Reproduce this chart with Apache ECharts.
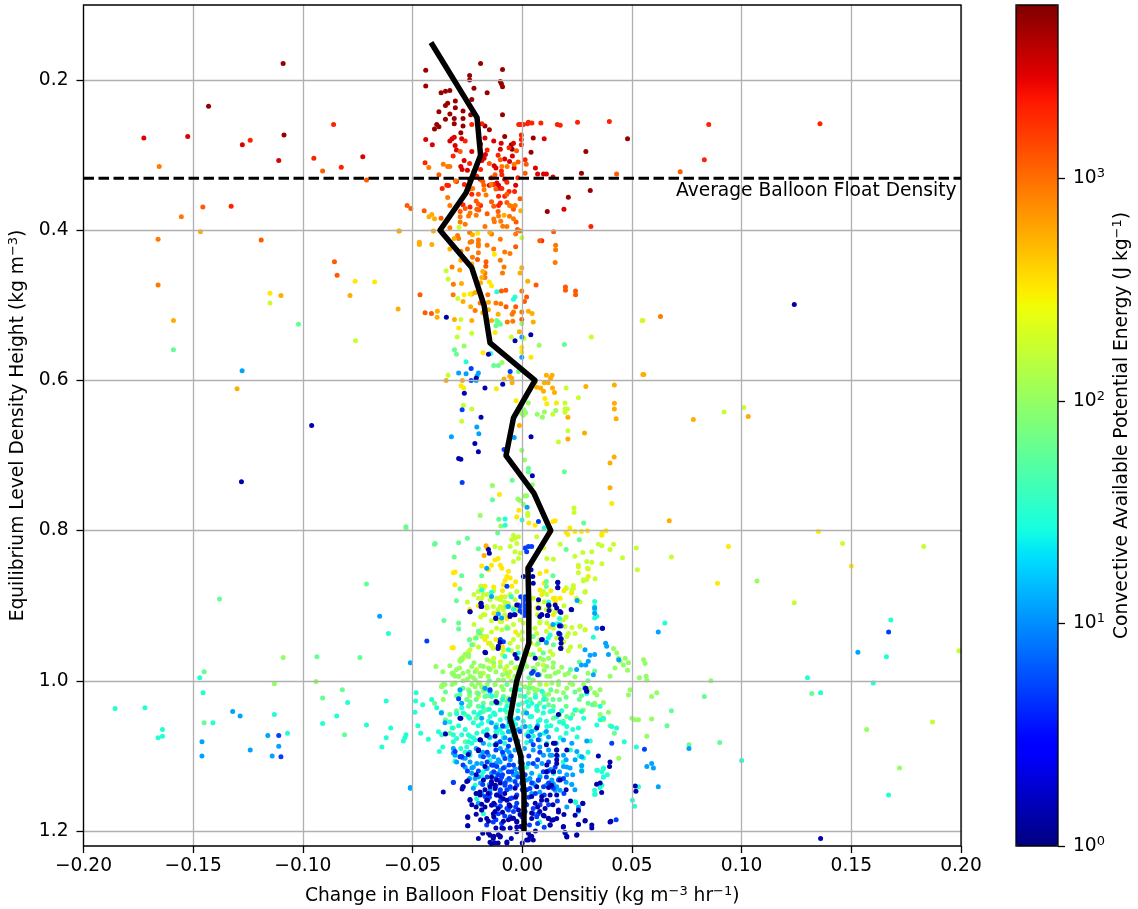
<!DOCTYPE html>
<html><head><meta charset="utf-8"><style>html,body{margin:0;background:#fff}#c{width:1138px;height:909px}</style>
<script src="https://cdn.jsdelivr.net/npm/echarts@6/dist/echarts.min.js"></script></head>
<body><div id="c"></div>
<script>
// Scatter values, flat x,y pairs, both in thousandths of kg m-3 (hr-1), one list per CAPE level.
const cape5000=[-109,178,-143,235,-44,187,-19,178,-9,186,-24,194,-24,200,-44,208,-10,202,-9.5,205,-9,209,-22,211,-16,217,-37,217,-35,215,-33,214,-23,226,-30.5,228,-34,231,-35,234,-30.5,237,-38,242,-27,241,-33,245,-23.5,246,-9,246,-35,252,-31,251,-27,251,-31,258,-27,261,-39,259,-38,262,-40,265,-17,261,-15,266,-28,270,-8,275,5,277,-5,286,-4.6,292,4,296,29,295,27,324,48,278,-108.6,273,21,356,31,347,11.4,375];
const cape3000=[-172.5,277,-152.5,275,-127.6,286,-111,307,-72.7,302,10,278,-17,277,-13,281,-9.6,284,-4,284,-10,292,-4.5,301,-44,279,-41,286,-31,276,-32,278,-33,281,-30.6,287,-27.6,278,-30,293,-26.5,307,-28,315,-27.4,319,-16.8,299,-17.4,304,-18.4,307,-12.8,314,-12,317,-8,305,-5.8,308.5,-3.7,317,6,317,7,325,9.7,325,11,325,14,329,-22,322,-11.6,337,-10.8,340,-10.4,344,19,372,-23,295,-19,285,-25,320,-15,340,-8,332,-3,340];
const cape2000=[-124,280,-86,259,-95,304,-82.5,316,-132.7,368,135.7,258,85,259,83,306,25.2,256,39.7,255,-23,259,-18.4,258,-1.6,259,-0.7,259,0.5,259,2.8,256,2.4,258,4.4,257,8.5,257,16,259,17.3,260,-0.4,273,-0.4,279,-0.4,286,-26,281,-31.5,301,-24,311,-44.3,310,1.3,306,-9.5,321,-9.3,326,-19,319,-20.7,328,-19.2,332,-34.4,340,-36.5,344.5,-33.6,340.5,-26.4,339,-13,339,-9.3,344.5,-6,348.5,-3.5,348.5,-8,354.7,-10.8,354.7,-23,352,-27,366,-19,367,-23.8,369,-10.8,367,-10,363.6,8.9,414,31.3,395,-30,335,-14,330,-7,336,-2,330,-24,332,-11,300,-6,290,-16,293];
const cape1200=[-91,321,-71,333,-145.6,369,-119,413,-52.5,367,-85.6,442,-84.4,460,72,322,43,325,14.3,402,-2.6,294,-28.3,295,-38,326,-15,311,-10,306,-1.9,309,1.8,312,1.3,324,-12.4,326,-17.5,340,-20,352,-21,361,-20,365,-26,371,-28.3,375,-13,368,-7,363,-20.7,372,-19.8,373,-2.8,389,-2.2,399,-3,422,8,414,-50.8,371,-44.7,374,-37,384,6.3,473,19.7,475.5,19.7,480,24.3,481,24.3,486,-20.4,439,-16.5,442,-16.6,448,-9.5,481,-7.5,480,-7.4,502,-3,502,-0.2,519,2,489,1,495,-46.6,486,-44.3,510,-41.4,511,-24,345,-18,335,-12,345,-7,352,-16,378,-14,362,-4,372,-1,358,-11,375];
const cape900=[-165.5,315,-155.4,382,-166,412,-166,473,-42.6,316.5,-36,312,-34,315,-33,315,-9.3,315,-6.9,315,-3.7,312,-30.5,334,-14.2,339,-22.6,344.5,-17.4,346,-16.5,353,-34,356.5,-33,367,-5.8,367,-5,368,-3.2,367,-23.8,377,-24.5,381,-10.8,381,-5.8,381.4,-4,384.5,-13,385,-12.7,388.5,-9.8,388,-8.9,394.7,-1,401,-28.3,382,-28.3,389,-33,396.5,-29.5,407,-29,411,-23,415,-23.8,416,-20,413,-20,418,-20,421,-10,412,15.2,420,15.2,426,-5.6,431,-8,429,-22.7,436,-32,449,-17,457,-9,457,-8.3,449,-17,463,-31.4,472,15,443,-31.5,486,-15.7,486,-19.2,497,-9.8,498,-12,497,-0.2,481,-4,509,-4.6,512,-0.2,509,-21.5,507,-6.8,522,-4.3,521,63,515,-26,392,-21,380,-17,395,-14,405,-7,395,-3,405,-24,403,-20,430,-13,425,-25,425,-16,420,-10,440,-28,428];
const cape550=[-146.7,402,-56.3,401,-78.5,487,-56.6,505,-159,520,-110,487,-130,611,-41.2,379,-42.5,382,-40,384.5,-56,401,-40.5,401,-46.9,416,-46.9,419,-41.2,419,-8.3,380,-14.8,403,-22.7,406,-31,411,-0.7,374,-28.5,453,-0.2,450,-1,457,2.5,468,-27.7,471,-18.4,463,-21.4,483,-23,485,-15.4,496,2.8,508,4.5,511,-38.7,508,-38.8,516,-30.9,519,-23.5,502,-15.4,506,-11,512,5,522,-1.3,535,-27.3,600,-34.7,600,-8.3,598,-5.7,594.5,-4.8,597,-4.6,603,11,593,13.6,593,12.9,597,10,603,11.8,603,5.9,602,6.6,609,8.4,610,9.7,614.5,13.8,610,14.7,616,29,608,42,606,55.4,592,42,630.5,42,638,20.8,649,42.8,651,28.4,670,20.8,678,40,710,41.9,702,40,743,67,787,78,652,103,648,55,592,-16.5,820,-16,823,-17.4,833,-1.3,660,-36,405,-33,425,-28,440,-23,445,-19,470,-18,455,-27,495,-23,520,-18,510,-14,520];
const cape350=[-76.2,468,-67.3,469,-115,484,-12.7,432,-14,474,-15,469,-20.3,404,-26.5,486,-23.8,485,-29,530,-12.4,536,-0.2,556,-0.2,562,4,569,-17.9,563,-27.9,607,-26.7,610,-11.8,611,-2.8,627,10.3,624,11.2,631,15.6,630,-10.4,752,-1.5,773,-2.5,782,3,790,5.9,793,14,788,15,787,21.7,796.5,40.8,764,55,520,135,801,150,847,89,870,94,821,24,801,27,801,29.7,800,20.8,805,36.3,803,36.3,806,38.2,800,12,799,-12.4,839,-11,837,-14,846,-10,846,-9.3,850,-15.4,852,-18.5,847,-30.6,855,-31.4,856,-6.3,854,-7,861,-7.8,866,-5.5,863,8.1,879,8.9,885,6.6,903,15,890,15,894,17.3,890,14.2,912,12.7,928,-10,921,-7,917,-17.7,941,-17,945,-15.4,950,-14,953,-31.4,956,-32,956,20,802,8,857,14.2,890,15,894,-30.7,872,-18.5,874,-17,874,-8.6,872,-4.8,874,-10.9,890,-9.4,888,-8,901,20,877,23.3,877,22.5,883,30.1,851,30.1,861,25.6,848,11,854,-13,875,-9,880,-3,868,-24,905,-20,900,-13,910,-3,935,3,885,10,870,13,880,-12,945,-9,955,19,880];
const cape200=[-115,497,-76,547,146,817,183,821,124,896,199,960,187,1055,92,642,101,636,68,835,-28.8,396,-0.2,410,-33.8,465,-34.7,454,-29.4,491,-28,519,-23,537,-29.7,542,0.8,544,-5,542,31.5,542,54.6,520,-33.8,593,19.5,630,19.5,638,20.6,638,19.5,642.5,13.9,645,25.6,623,20,610,-23,638,-26.8,633,-27.6,654.5,20.8,667,16.5,682,23.6,770,23.6,776,2.5,777,2.5,780,-4,806,-3.3,810,-4.8,812,-1.7,808,-2.5,817,-5.5,821,-3.3,828,-1,830,-1.7,837,-4,841,-10,823,-12.4,821,6.6,808,9.7,823,17.3,818,11.2,837,14.2,838,24,834,27.6,829,31.7,828,34.7,818,36.3,820,40,825,41.6,818,45.7,836,52,823,52.5,852,36.3,844,29.4,841,31.7,842,29.7,850,25.6,846,25.6,856,20,876,23.3,873,22.6,879,24.9,891,28.7,881,27.9,867,33.2,864,29.4,865,26.4,927,28.7,932,24.1,937,22.6,929,21,937,20.3,941,18.8,948,-19,874,-17.7,877,-20,881,-16,885,-18.5,890,-14.7,892,-11.6,890,-10,892,-7.8,888,-5.5,885,-2.5,881,-3.3,892,-6.3,897,-10,901,-8.6,905,-4,903,-16,903,-17.7,912,-7,928,-9.3,932,-1,919,0.5,923,9.7,881,11.2,885,5,890,12.7,905,8.1,921,11.2,923,14.2,930,6.6,937,4.3,941,-20,937,-21.5,943,-18.5,941,-24.5,961,-26.8,968,-27.6,972,-7,981,-5.5,988,-3.3,983,-6.3,994,-8.6,959,-5.5,950,-1.7,939,-20.8,985,-17.7,990,-13,981,-7.9,985,-6.3,990,-19.3,1003,-17.7,1010,-20,1021,8,1003,11,1005,3.5,1007.5,-28.4,972,9.6,979,-14.7,974,-17.7,885,-20,890,-13.2,901,-16.2,901,-11.7,910,-17,912,-9.4,921,-6.3,930,-11.7,930,-18.5,932,-16.2,941,-14.7,950,-13.2,956.5,-22.3,952,-26,965,-26.9,970,-23.8,958.7,7.3,894,8,903,5.8,930,8,923,11,934,18.7,919,19.5,927.6,15.7,943,6.6,952,8,958.7,3.5,965,12.7,961,24.8,890,26.3,895,28.6,882,27.9,865.5,26.3,927.6,28.6,932,26.3,954,-24,945,-20,955,-17,962,-13,970,-10,975,-9,965,-5,960,-2,955,1,960,4,950,8,945,11,950,14,965,18,955,21,960,-22,925,-19,915,-14,920,-11,905,-8,912,-4,925,0,935,3,930,7,912,11,905,15,908,20,915,-25,895,-22,885,-13,880,-8,895,-2,905,3,900,10,895,19,900,-14,935,-10,945,-4,945,0,945,22,955];
const cape100=[-109,969,-53,797,-0.2,524,7.7,553,-26.5,554,-9.2,576,4.6,739,-13.6,740,-2,758,-1,760,1.3,754,2,753.5,0.5,765,-19.2,780,-0.2,693,1,706,2.8,630,-0.7,639,0,641,0.8,643,-0.2,644,0.8,639,1.6,643,0.5,646.5,6.8,645,10.1,642,15.3,640,9.2,649,-9.8,794,-27.6,970,-26,965,-24.5,968,-28.3,974,-31.4,990,-29,994,-36.2,1005,-36.7,1008,-32,1005,-30.6,1003,-23,981,-21.5,988,-19,994,-20,1003,-18.5,1008,-23,1005,-24.5,1012,-20.7,1016,-17.7,1014,-14.7,1012,-12.4,1005,-8.6,999,-7,990,-3.3,994,-1.7,988,-10,981,-13,976,-15.4,983,-17.7,981,-11.6,1016,-8.6,1012,-4,1019,-6.3,1023,1.3,1008,3.6,1003,5,1010,8.1,1005,11.2,994,13.5,1003,16.5,1005,15.7,1014,18.8,1016,20.3,1010,8.1,970,9.7,972,12,970,14.2,976,5,983,11.2,981,16.5,988,21.8,1003,41.6,957,43.1,963,43.9,970,44.6,974,46.9,970,46.1,979,48.4,976,48,986,42.3,983,40,994,55.3,972,56,977,53.4,996,56.5,994,56.8,999,61.3,1016,59,1021,49.2,1012,48.4,1019,35.5,1012,34,1019,37,1029,33.2,1032,39.3,1042,27.9,1039,24.9,1039,44,1103,157,1065,172,1116,107,867,-32,990,-30.6,994,-28.6,983,-36.2,988,-39.4,981,-27.6,972,-24.5,965,-36.7,1008,-36,1005,-23.8,994,-21.5,999,-19.2,990,-21.5,1008,-94,1001,-113,1004,86,1000,50,1050,51.5,1052,53,1052,59,1051,56.8,1074,-31.4,992,-29,994,-24.6,987.5,-22.3,996,-15.5,994,-10.9,999,-12.4,1005,-9.4,1007.5,-14.7,985,2,981,5.8,985,8,992,12.7,994,15,990,19.5,992,16.5,1001,5,999,2.8,1016,5.8,1012,9.6,1016,-35.2,1005,-36.7,1007.5,-36,1025,24.8,1039,35.5,1045,37,1052,33,1030,33,1016,-33,980,-30,985,-27,990,-25,998,-22,976,-19,980,-16,972,-12,988,-9,992,-5,976,-2,982,1,975,4,990,7,978,10,986,14,982,18,982,21,990,24,995,28,1005,31,1010,-27,1000,-24,1020,-16,1005,-5,1000,-1,1004,7,1012,12,1018,23,1005,26,1012,30,990];
const cape60=[-102,525,-159,559,-138,891,-71,871,-145,988,-93.6,968,-82,1012,-74,969,-91,1023,-81,1072,-40,818,-10.9,522.6,-11.6,520,-10,525,-12,527,19.2,552,-30.9,559,-30,565,-13,580,-10.9,580,-4.6,733,-13.6,759,2.8,717,2.8,722,19.2,721.5,-1.7,588,-10.7,785,-53,795,-39.7,817,-11.2,803,-25,810,-29,816,-20,824,-31,835,-27.6,860,-18.5,860,14,860,26,812,20,825,28,790,-20,1017,-17,1021,-20,1034,-17.7,1041,-23.8,1028,-24.5,1034,-14,1030,-7,1042,0,1030,7,1040,14,1025,20,1034,26,1025,32,1032,-7,1005,3,996,0,985,30,1000,33,987,26,975,22,985,-30,1020,-35,1015,-40,1030,-15,1000,5,965,-2,970,-35,1052,-33,1045,68,1040,83,1021,76,1085,90,1082,66,1060,40,1060,42,1070,132,1017,-145,1056,-28.4,1018.6,-25.3,1025,-23.8,1032,-17.7,1030,-14,1021,-8.6,1021,-10.1,1030,-7,1027.5,-16.2,1038.6,3.5,1025,8,1030,11,1025,14.2,1034,20.3,1047.5,18.7,1054,14.2,1050,-31.4,1063,-33,1070,-26,1081,-28.4,877.5,-35.7,919.6,-29,923,-29,931,-30,893.5,11,867.7,11,874.4,-20,934,-19.3,936.5,-24.1,945.4,-21,943,-23,952,-7,930,5,941,7.3,950,9.6,963,14.2,952,-30,1040,-27,1010,-24,1015,-21,1025,-16,1012,-12,1020,-5,1012,-1,1020,3,1010,6,1018,10,1020,13,1012,17,1025,20,1022,24,1015,27,1020,30,1030,-26,1045,-21,1050,-16,1020,-3,1006,1,1040,12,1032,17,1045,23,1045];
const cape30=[-145.5,1016,-164,1065,-166,1076,-164,1074,-185.6,1037,-172,1036,-147,996,-107,1070,-141,1056,-113,1045,-84.6,1047,-79.6,1029,-91,1057,-71,1059,-64,1088,-62,1076,-60,1063,-62,1027,-61,937,-53.5,1076,168,919,166,968,130,996,160,1003,136,1016,100,1106,167,1152,65,923,-25.6,575,-3.3,489,-4,492,-11.6,482,-14.4,564,-7.8,784.6,-0.1,786,-7.8,793,10,796.5,-18.5,879,-14,882,-5,888,-4,905,17,917,16,924,12,895,-48.4,1016,-48.6,1027,-48.9,1042,-45.4,1032,-41.3,1025,-39,1036,-36.7,1042,-28.3,1013,-29,1024,-29.9,1044,-47.6,1060,-46.3,1070,-42.8,1078,-54.2,1080,-53,1072,-38.2,1068,-36.7,1072,-36.2,1088,-37.8,1094,-32,1063,-31.4,1072,-29.9,1077,-27.6,1072,-24.5,1081,-25.3,1088,-23.8,1074,-21.5,1079,24,1039,25.6,1063,27,1041,29.4,1017,35.5,1034,40.8,1061,35.5,1052,34,1059,37,1050,43,1063,46.5,1081,52,1088,37,1116,36.3,1121,34.3,1119,37,1128,38.8,1125,36.3,1139,33.2,1151,50.2,1159,51.2,1167,53,1141,24.4,1162,-11.6,1030,-10,1039,-7,1034,-4,1025,-1.7,1032,1.3,1021,4.3,1030,6.6,1034,9.7,1025,12.7,1041,15.7,1048,18.8,1057,20.3,1061,15.7,1065,11.2,1061,8.1,1052,3.6,1048,0.5,1043,-4,1052,-7,1061,-10,1052,-13,1043,-15.4,1054,-18.5,1057,-20.7,1070,-17.7,1068,-14.7,1076,-11.6,1070,-8.6,1076,-4,1074,-1,1065,2,1072,5,1074,8.1,1079,11.2,1083,15.7,1083,17.3,1076,-24,1050,-19,1042,-14,1020,-1,1012,9,1014,-5,1044,25,1075,28,1050,31,1080,-27.6,1036,-26.9,1043,-24.6,1047.5,-22.3,1056,-20,1045,-14.7,1047.5,-12.4,1045,-7.9,1038.6,-7,1050,-11.7,1058.6,-10.1,1065,2.8,1034,4.3,1047.5,6.6,1038.6,9.6,1043,7.3,1054,11,1054,3.5,1061,0.5,1054,-24.6,1072,-22.3,1076,-23,1083,-35.2,1070,-31.4,1081,-30.7,1107,-23.8,1099,-14.7,1106,-17.7,1121,-21.5,1139,-20.8,1157,-18.5,1126,-2.5,1128,2,1115,8,1126,14.2,1123.6,18.7,1108,27.9,1102.7,27.1,1112.5,27.1,1119,34,1119,37,1117,37,1128,33,1145.8,33,1151.5,24.1,1161,22.5,1137.8,35.5,1142,-17.7,1177,8,1188,33,894.3,33,901,33,905.4,33,916.5,34,914,32.4,942,12.7,939,11.9,943,-7,901,-1.8,963,-6.3,958.7,-7.9,967.6,-20,1060,-16,1065,-12,1068,-9,1070,-6,1068,-3,1058,0,1062,3,1068,6,1065,10,1070,13,1060,17,1055,20,1070,23,1065,-26,1065,-29,1060,-22,1042,-18,1035,-15,1038,-9,1025,-5,1030,-2,1040,2,1028,6,1022,10,1035,14,1040,18,1040,22,1050,-33,1055,-26,1095,-28,1090,22,1092,26,1100,30,1095,-15,1085,-8,1083,2,1082];
const cape12=[-132,1041,-128.6,1047,-124,1092,-116,1073,-111,1087,-114,1100,-146,1081,-146,1100,-51,976,-51,1143,-65,914,153,962,62,935,76,1090,-32.3,675,-127.7,587,-3.7,676,2.2,769,-21,600,-20.6,594,-20,590,14,925,11,949,25,893,33,903,33,910,34,930,38,950,44,972,27,979,29,979,-51,1142,-20.7,1110,-23,1116,-23,1123,-21.5,1130,-19,1136,-22.3,1143,-18.5,1150,-18.5,1110,-16,1116,-13,1101,-10.9,1105,-8.6,1099,-5.5,1105,-3.3,1092,-0.2,1101,2.8,1110,4.3,1123,6.6,1114,8.1,1128,11.2,1121,13.5,1132,15.7,1141,5,1136,2,1132,-2.5,1123,-5.5,1132,-10,1119,-14,1123,-15.4,1099,-11.6,1083,-7,1092,5,1092,9.7,1099,13.5,1099,18.8,1099,18.8,1114,20.3,1125,17,1121,-18.5,1172,-20,1163,-31.4,1096,-30.6,1099,-29.9,1108,-26,1103,-23.8,1108,21.8,1116,27.1,1101,27.1,1113,27.1,1120,24.1,1105,22.6,1138,24.9,1094,18.8,1079,22.6,1083,29.4,1080,62,1141,59,1110,59.8,1116,56.8,1114,-0.2,542,-0.2,569,-29,590,-25.6,591,-20.7,662,-19.8,671,-28.4,1012,-14.7,1014,-17,1010,-27.6,1030,-18.5,1050,-14,1056,-8.6,1061,-6.3,1067.5,-1.8,1065,1.3,1061,8,1072,11,1067.5,2,1043,4.3,1067.5,-36.9,1043,-35.2,1056,32.4,992,24.8,985,30.1,974,-31.4,1090,-17.7,1083,-12.4,1085,-7.9,1076,-28.4,1101,-26.9,1102.7,-22.3,1114.7,-20,1128,-16.2,1117,-11.7,1123.6,-10.1,1108,-5.6,1101,-3.3,1117,-7,1132.4,3.5,1130,5.8,1139,11,1139,14.2,1137,8,1148,4.3,1150,12.7,1099,20.3,1114.7,15,1145.8,17.2,1145.8,-5.6,1143.5,-14.7,1145.8,20.3,1168,25.6,1168,25.6,1173.7,19.5,1202.6,-14,887.7,-16.2,850,-10.9,911,-9.4,916.5,-6.3,901,28.6,958.7,33,965,30.9,966,38.5,954,39.3,965,17.2,925.4,16.5,936.5,-26,1115,-24,1095,-21,1090,-18,1095,-15,1075,-10,1090,-6,1095,-2,1080,1,1090,4,1080,8,1088,12,1092,16,1100,20,1105,23,1125,-1,1108,-4,1125,9,1110,13,1118,17,1130,-12,1110,-8,1115,-19,1100,-24,1130,-21,1150,-15,1138,20,1135,24,1145,-2,1050,-12,1062,-6,1055,7,1060,12,1075];
const cape5=[-111,1073,-110,1101,167,935,55.7,1091,40.8,1083,-23.3,584,-23.3,600,-27.4,639,-27.4,736,-8.3,692,-5.5,588,7.4,788,-28.3,1101,-30.6,1094,-27.6,1101,-11.6,1114,-13,1121,-10.9,1125,-8.6,1116,-6.3,1121,-4,1112,-1,1116,1.3,1125,4.3,1136,7.4,1132,9.7,1141,12,1136,14.2,1143,16.5,1132,18.8,1130,-10,1132,-7.8,1136,-5.5,1141,-3.3,1134,-0.2,1136,2,1145,-10,1145,-7,1145,-11.6,1152,-4.8,1156,-2.5,1163,-7,1170,-4,1174,1.3,1174,5,1170,8.1,1165,6.6,1181,-0.2,1181,-5.5,1181,-10,1167,-12.4,1165,-17,1154,-14.7,1150,-31.4,1135,-0.7,888,0.5,892,0.5,897,-1,901,1,905,0,909,1,913,-1,907,2.8,821,4.3,821,1.3,823,2,828,-10,945,-8.6,948,-43.5,947,4.3,990,7,992,9.2,945,17.7,927,42.8,1185,-9,1060,-2,1085,8,1095,12,1108,-16,1108,-20,1092,-5,1100,0,1110,15,1115,-12,1140,-29,1024,2.8,1074,5,1085,7.3,1078.6,-6.3,1087,-5.6,1078.6,-1,1067.5,-10.1,1081,29.4,1014,28.6,1010,7.3,992,5,987.5,-14.7,1012,-5.6,1025,-17.7,1101,-13.2,1112.5,-7.9,1103.6,-4.8,1121,-9.4,1128,-7.9,1139,-2.5,1139,-10.1,1148,-5.6,1157,-2.5,1152,3.5,1143.5,7.3,1132.4,9.6,1121,11,1128,5,1110,-6.3,1172,-10.9,1177,5,1177,7.3,1177,-9.4,1190,-13.2,1188,-31.4,1135.5,-26.9,1141,-27.6,1101,-16.2,1192,3.3,1192,1.3,888,2,892,2.8,896.6,1.3,901,2.8,905.4,1.3,910,-7,874,-1.8,899,17.2,938,-16,1128,-12,1130,-9,1125,-14,1112,-20,1120,-6,1112,-2,1128,0,1145,3,1155,6,1150,10,1152,12,1165,16,1160,19,1150,-18,1138,-15,1155,-10,1160,-3,1168,2,1165,-8,1180,-12,1185,0,1195,7,1190,10,1195,-1,1095,3,1100,-9,1095,-12,1092,7,1105,12,1120,-25,1120,-27,1112,-6,1130,-16,1095];
const cape1=[-96,660,-128,735,124,499,136,1210,-28,705,-29,704,-21.6,684,-20,695,-18.8,649,-26.4,617,-17,610,-8.9,605,-15.4,565,-3.3,547,3.9,539,-34.6,516,4,675,4.6,727,-21,597,-15.4,825,-15,830,4,852,0.5,861,4.8,861,5,870,16.2,869,16.2,876,-18.8,897,-18.5,901,-23.8,908,-12,917,-5.5,912,-3.3,912,-2.5,899,7.4,892,7.4,903,12,899,15,899,15.7,903,8.9,912,11.6,913,17.6,909,22.3,905,17,927,16.8,937,17.6,944,17.7,950,17.6,957,36.6,930,-17,962,-11,957,-3.3,965,-2.5,970,29,1010,29.4,1014,5.9,970,-11.6,1029,-19,1079,-12,1085,-20,1093,-16,1072,-28,1050,-35,1071,34.7,1100,40,1108,39.8,1114,35.5,1136,51.5,1140,51.8,1147,-36,1148,-27,1141,-27.4,1144,-24.8,1133,-17,1114,-17.7,1132,-14,1134,-11.6,1132,-10,1136,-12.4,1139,-14.7,1141,-17,1145,-19.2,1152,-15.9,1159,-13,1163,-10,1154,-7,1159,-23.8,1159,-23,1165,-18.5,1172,-24.8,1182,-24.8,1193,-12.4,1174,-13,1181,-15.4,1187,-8.6,1187,-6.3,1185,-4,1183,-9.3,1196,-5.5,1196,-2.5,1187,-15.4,1203,-13,1207,-10.9,1205,-7,1216,-14.7,1215,-12.4,1216,-10,1207,-2.5,1201,2.8,1203,4.3,1207,5,1212,2,1212,-0.7,1194,4.3,1176,8,1174,10.4,1170,12,1183,14.2,1185,12.7,1192,18.8,1194,19.5,1202,20.3,1207,24.9,1205,25.6,1191,28.7,1186,31.7,1192,31.7,1196,40.4,1187,24.1,1179,25.6,1172,27.6,1163,16.5,1172,15.7,1152,11.2,1159,5.9,1163,4.3,1154,-3.3,1143,-5.5,1167,-1.7,1172,1.3,1163,14.2,1121,17.3,1132,11.2,1112,15.7,1105,6.6,1141,8.9,1154,12.7,1152,14.2,1083,15.7,1092,6.6,1063,-28.4,1050,-19.3,1078.6,-16.2,1073,-12.4,1074,-20,1092,-24.6,1098,15,1083,15.7,1092,20.3,1092,11,1085,16.5,1045,-12,1027.5,-25.3,1134,-19.3,1148,-23.8,1158,-21,1168,-21,1177.7,-24.9,1181,-24.9,1193,-18.5,1164.4,-16.2,1159,-14,1165.7,-13.2,1177,-16.2,1183.5,-14,1137,-12.4,1143.5,-15.5,1150,-11.7,1152,-8.6,1157,-4.8,1183.5,-2.5,1188,-2.5,1194.6,-8.6,1196.8,-14.7,1205.7,-13.2,1210,-10.1,1208,-7,1214.6,-14,1216.8,3.5,1208,2.8,1212,4.3,1183.5,9.6,1179,11.9,1183.5,13.4,1185.7,15.7,1183.5,12.7,1192,8.8,1159,16.5,1174.6,13.4,1139,15.7,1099,15.7,1110,11,1121,14.2,1121,27.6,1163.5,25.6,1191.5,28.6,1186.6,24.8,1205.7,18.7,1194.6,20.3,1208,40,1188,33.9,1137.8,36.2,1148.9,-23.8,908,-18.8,896.6,-18.8,901,-12.1,916.5,-5.6,914.3,-3.8,912,8,914.3,8.8,912,11.4,913,12.2,899.7,12.2,906.3,16.2,868.6,16.2,875.7,17.2,907.7,22.5,905.4,8.8,945.4,17.7,944,17.5,956.5,-16.7,962.7,36.5,930,-10.1,948.5,-10.9,954,-19,1185,-21,1150,-11,1170,-17,1168,-9,1175,-6,1165,-1,1178,1,1190,7,1168,10,1180,14,1165,19,1178,-12,1196,-18,1203,-20,1210,-11,1216,-5,1210,0,1216,6,1200,-8,1150,-14,1128,-21,1125,-3,1155,12,1142,20,1145,22,1160];
const capeLevels=[5000,3000,2000,1200,900,550,320,170,100,60,30,12,5,1.4];
const capeLists=[cape5000,cape3000,cape2000,cape1200,cape900,cape550,cape350,cape200,cape100,cape60,cape30,cape12,cape5,cape1];
// Mean line
const meanChange=[-0.0416,-0.0206,-0.019,-0.0256,-0.0375,-0.023,-0.0174,-0.0147,0.0058,-0.004,-0.0074,0.0053,0.013,0.0026,0.003,0.003,-0.0025,-0.0056,-0.0007,0.0008,0.0008];
const meanHeight=[0.15,0.25,0.30,0.35,0.40,0.45,0.50,0.55,0.60,0.65,0.70,0.75,0.80,0.85,0.90,0.95,1.00,1.05,1.10,1.15,1.20];
const floatDensity=0.3306;
const yTicks=[0.2,0.4,0.6,0.8,1.0,1.2];
const capeTicks=[1,10,100,1000];
const capeTickLabels=['{a|10}{b|0}','{a|10}{b|1}','{a|10}{b|2}','{a|10}{b|3}'];
const capeMax=6000;

function jet(t){
  const pw=(p)=>{for(let i=1;i<p.length;i++){if(t<=p[i][0]){const a=p[i-1],b=p[i];return a[1]+(b[1]-a[1])*(t-a[0])/(b[0]-a[0]);}}return p[p.length-1][1];};
  const r=pw([[0,0],[.35,0],[.66,1],[.89,1],[1,.5]]),g=pw([[0,0],[.125,0],[.375,1],[.64,1],[.91,0],[1,0]]),b=pw([[0,.5],[.11,1],[.34,1],[.65,0],[1,0]]);
  return `rgb(${Math.round(r*255)},${Math.round(g*255)},${Math.round(b*255)})`;
}
const jetStops=[];for(let i=0;i<=128;i++)jetStops.push(jet(i/128));

const points=[];
capeLists.forEach((list,k)=>{for(let i=0;i<list.length;i+=2)points.push([list[i]/1000,list[i+1]/1000,Math.log10(capeLevels[k])]);});

const font='"DejaVu Sans"',fs=18.67;
const sup={t:{fontSize:fs,color:'#000',fontFamily:font},s:{fontSize:13,color:'#000',fontFamily:font,padding:[0,0,9,0]}};
const nameStyle={fontSize:fs,color:'#000',fontFamily:font,rich:sup};
const chart=echarts.init(document.getElementById('c'),null,{renderer:'canvas'});
chart.setOption({
  animation:false,backgroundColor:'#fff',textStyle:{fontFamily:font},
  grid:[
    {left:83.5,top:5,width:877.5,height:841,show:true,borderColor:'#000',borderWidth:1.3,backgroundColor:'transparent',z:6,outerBoundsMode:'none'},
    {left:1016,top:5,width:42,height:841,show:true,borderColor:'#000',borderWidth:1.3,backgroundColor:'transparent',z:8,outerBoundsMode:'none'}
  ],
  xAxis:[
    {gridIndex:0,type:'value',min:-0.2,max:0.2,interval:0.05,z:3,name:'{t|Change in Balloon Float Densitiy (kg m}{s|\u22123}{t| hr}{s|\u22121}{t|)}',nameLocation:'middle',nameGap:39,
     nameTextStyle:nameStyle,
     axisLine:{show:false,onZero:false},axisTick:{length:7,lineStyle:{color:'#000',width:1.3}},
     axisLabel:{fontSize:fs,color:'#000',margin:11,fontFamily:font,formatter:v=>(Math.abs(v)<1e-9?'0.00':v.toFixed(2).replace('-','\u2212'))},
     splitLine:{show:true,lineStyle:{color:'#b0b0b0',width:1.3}}},
    {gridIndex:1,type:'value',min:0,max:1,show:false}
  ],
  yAxis:[
    {gridIndex:0,type:'value',inverse:true,min:0.1,max:1.22,interval:0.02,z:3,name:'{t|Equilibrium Level Density Height (kg m}{s|\u22123}{t|)}',nameLocation:'middle',nameGap:50,
     nameTextStyle:nameStyle,
     axisLine:{show:false,onZero:false},axisTick:{length:7,customValues:yTicks,lineStyle:{color:'#000',width:1.3}},
     axisLabel:{fontSize:fs,color:'#000',margin:15,fontFamily:font,customValues:yTicks,formatter:v=>v.toFixed(1)},
     splitLine:{show:true,lineStyle:{color:'#b0b0b0',width:1.3}}},
    {gridIndex:1,type:'log',logBase:10,min:1,max:capeMax,position:'right',z:8,name:'{t|Convective Available Potential Energy (J kg}{s|\u22121}{t|)}',nameLocation:'middle',nameGap:53,nameRotate:90,
     nameTextStyle:nameStyle,
     axisLine:{show:false,onZero:false},axisTick:{length:7,customValues:capeTicks,lineStyle:{color:'#000',width:1.3}},
     axisLabel:{fontSize:fs,color:'#000',margin:15,fontFamily:font,customValues:capeTicks,formatter:v=>capeTickLabels[capeTicks.indexOf(Math.round(v))]||'',
       rich:{a:{fontSize:fs,color:'#000',fontFamily:font},b:{fontSize:13,color:'#000',fontFamily:font,padding:[0,0,9,0]}}},
     splitLine:{show:false},minorTick:{show:false}}
  ],
  visualMap:{type:'continuous',seriesIndex:0,dimension:2,min:0,max:Math.log10(capeMax),calculable:false,realtime:false,hoverLink:false,
    left:1016,top:5,itemWidth:42,itemHeight:841,padding:0,text:null,showLabel:false,inRange:{color:jetStops},z:4},
  series:[
    {type:'scatter',xAxisIndex:0,yAxisIndex:0,data:points,symbolSize:5,z:2,silent:true,itemStyle:{opacity:1}},
    {type:'line',xAxisIndex:0,yAxisIndex:0,data:[[-0.2,floatDensity],[0.2,floatDensity]],symbol:'none',z:5,silent:true,
     lineStyle:{color:'#000',width:3,type:[10.5,4.5]}},
    {type:'line',xAxisIndex:0,yAxisIndex:0,data:meanChange.map((x,i)=>[x,meanHeight[i]]),symbol:'none',z:5,silent:true,
     lineStyle:{color:'#000',width:5.5,join:'round'}},
    {type:'scatter',xAxisIndex:0,yAxisIndex:0,data:[[0.198,0.3485]],symbolSize:0,silent:true,z:6,itemStyle:{opacity:1},
     label:{show:true,position:'left',distance:0,formatter:'Average Balloon Float Density',fontSize:fs,color:'#000',opacity:1,fontFamily:font}}
  ]
});
</script></body></html>
